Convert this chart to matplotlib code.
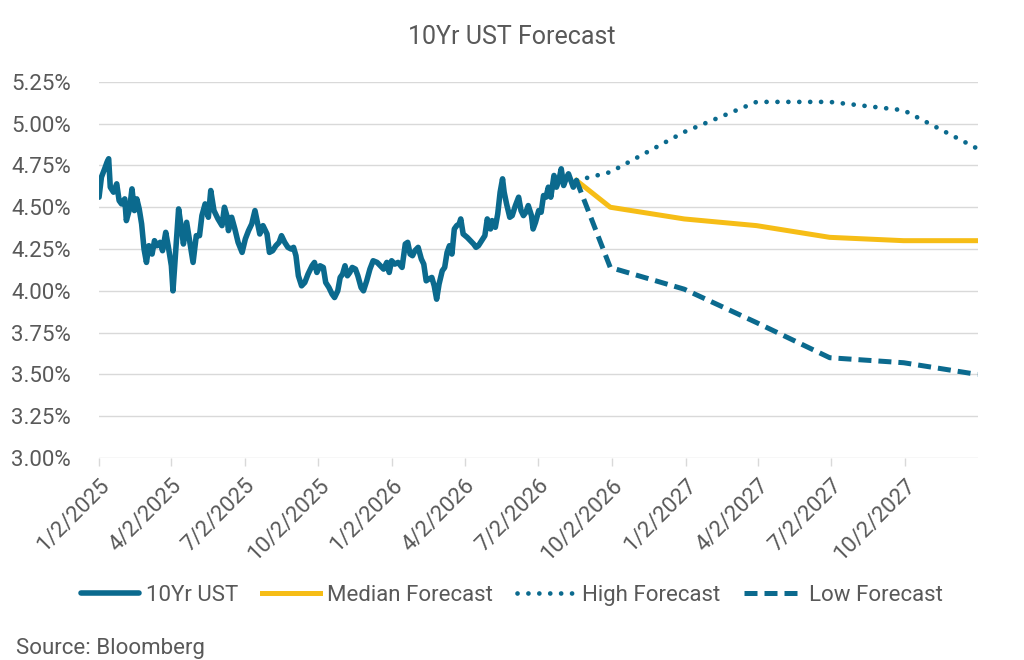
#!/usr/bin/env python3
"""10Yr UST history plus median/high/low forecast paths."""

import matplotlib

matplotlib.use("Agg")

import matplotlib.pyplot as plt
import matplotlib.dates as mdates
import matplotlib.ticker as mticker
import pandas as pd

# ---------------------------------------------------------------------------
# Data
# ---------------------------------------------------------------------------

START = "2025-01-02"

# days since START, 10Yr yield (%)
HIST_DAYS = [
    0, 3, 7, 10, 12, 14, 18, 22, 25, 28, 32, 34, 38, 41, 44, 47, 50, 53, 56, 59,
    62, 66, 69, 72, 76, 79, 83, 86, 90, 92, 95, 99, 102, 105, 109, 113, 117, 121,
    125, 128, 132, 136, 139, 143, 148, 153, 156, 159, 161, 165, 169, 173, 178,
    182, 186, 190, 194, 197, 200, 204, 209, 212, 216, 220, 224, 227, 231, 235,
    239, 242, 245, 248, 252, 256, 260, 265, 268, 271, 275, 279, 282, 286, 290,
    293, 297, 300, 303, 306, 309, 312, 315, 319, 322, 326, 329, 333, 337, 341,
    346, 350, 354, 358, 361, 364, 368, 372, 377, 381, 384, 387, 390, 393, 397,
    401, 404, 407, 410, 414, 417, 420, 423, 427, 430, 433, 436, 439, 442, 445,
    448, 450, 453, 458, 462, 466, 469, 472, 476, 480, 483, 487, 489, 493, 496,
    499, 502, 504, 507, 511, 514, 518, 522, 525, 528, 531, 534, 538, 540, 543,
    547, 550, 553, 556, 559, 562, 566, 569, 572, 575, 578, 581, 584, 587, 590,
    594,
]
HIST_VALS = [
    4.56, 4.68, 4.73, 4.77, 4.79, 4.62, 4.59, 4.64, 4.54, 4.52, 4.55, 4.42, 4.49,
    4.61, 4.48, 4.55, 4.49, 4.40, 4.25, 4.17, 4.27, 4.22, 4.30, 4.27, 4.29, 4.24,
    4.35, 4.27, 4.15, 4.00, 4.21, 4.49, 4.39, 4.28, 4.41, 4.29, 4.17, 4.33, 4.33,
    4.45, 4.52, 4.44, 4.60, 4.48, 4.43, 4.39, 4.50, 4.45, 4.36, 4.44, 4.37, 4.29,
    4.23, 4.31, 4.36, 4.40, 4.48, 4.41, 4.34, 4.39, 4.34, 4.23, 4.24, 4.27, 4.29,
    4.33, 4.29, 4.26, 4.25, 4.26, 4.21, 4.09, 4.03, 4.05, 4.10, 4.15, 4.17, 4.11,
    4.15, 4.14, 4.05, 4.02, 3.98, 3.96, 4.00, 4.08, 4.10, 4.15, 4.09, 4.11, 4.14,
    4.13, 4.09, 4.02, 4.00, 4.06, 4.13, 4.18, 4.17, 4.15, 4.13, 4.17, 4.11, 4.18,
    4.16, 4.17, 4.14, 4.28, 4.29, 4.22, 4.21, 4.24, 4.26, 4.19, 4.16, 4.06, 4.07,
    4.08, 4.03, 3.95, 4.04, 4.12, 4.14, 4.23, 4.27, 4.22, 4.37, 4.39, 4.40, 4.43,
    4.34, 4.32, 4.30, 4.28, 4.26, 4.27, 4.30, 4.33, 4.43, 4.37, 4.42, 4.38, 4.46,
    4.59, 4.67, 4.59, 4.52, 4.44, 4.45, 4.51, 4.56, 4.48, 4.45, 4.47, 4.51, 4.45,
    4.37, 4.41, 4.48, 4.47, 4.57, 4.56, 4.62, 4.56, 4.69, 4.62, 4.66, 4.73, 4.63,
    4.67, 4.70, 4.66, 4.62, 4.66,
]

FC_DATES = [
    "2026-08-19", "2026-09-30", "2026-12-31", "2027-03-31",
    "2027-06-30", "2027-09-30", "2027-12-31",
]
MEDIAN_FC = [4.66, 4.50, 4.43, 4.39, 4.32, 4.30, 4.30]
HIGH_FC = [4.66, 4.71, 4.95, 5.13, 5.13, 5.08, 4.85]
LOW_FC = [4.66, 4.14, 4.01, 3.81, 3.60, 3.57, 3.50]

TICK_DATES = [
    "2025-01-02", "2025-04-02", "2025-07-02", "2025-10-02",
    "2026-01-02", "2026-04-02", "2026-07-02", "2026-10-02",
    "2027-01-02", "2027-04-02", "2027-07-02", "2027-10-02",
]
Y_TICKS = [3.00, 3.25, 3.50, 3.75, 4.00, 4.25, 4.50, 4.75, 5.00, 5.25]

# ---------------------------------------------------------------------------
# Styling
# ---------------------------------------------------------------------------

BLUE = "#0B6A8E"
GOLD = "#F6BD16"
TEXT = "#595959"
GRID = "#D9D9D9"

plt.rcParams["font.family"] = ["Roboto", "DejaVu Sans"]


def main() -> None:
    start = pd.Timestamp(START)
    hist_x = start + pd.to_timedelta(HIST_DAYS, unit="D")
    fc_x = pd.to_datetime(FC_DATES)

    fig = plt.figure(figsize=(10.24, 6.6), dpi=100)
    ax = fig.add_axes([0.0967, 0.306, 0.858, 0.570])

    ax.plot(hist_x, HIST_VALS, color=BLUE, lw=4.0, solid_joinstyle="round",
            solid_capstyle="round", label="10Yr UST", zorder=3)
    ax.plot(fc_x, MEDIAN_FC, color=GOLD, lw=3.6, label="Median Forecast", zorder=2)
    ax.plot(fc_x, HIGH_FC, color=BLUE, lw=3.4, linestyle=(0, (0.01, 2.3)),
            dash_capstyle="round", label="High Forecast", zorder=2)
    ax.plot(fc_x, LOW_FC, color=BLUE, lw=3.6, linestyle=(0, (2.6, 1.4)),
            label="Low Forecast", zorder=2)

    ax.set_xlim(start, pd.Timestamp("2027-12-31"))
    ax.set_ylim(3.0, 5.25)

    ax.set_yticks(Y_TICKS)
    ax.yaxis.set_major_formatter(mticker.FuncFormatter(lambda v, _: f"{v:.2f}%"))
    ax.set_xticks(pd.to_datetime(TICK_DATES))
    ax.xaxis.set_major_formatter(
        mticker.FuncFormatter(lambda v, _: "{d.month}/{d.day}/{d.year}".format(d=mdates.num2date(v)))
    )
    plt.setp(ax.get_xticklabels(), rotation=45, ha="right", rotation_mode="anchor")

    ax.grid(axis="y", color=GRID, lw=1.0)
    ax.set_axisbelow(True)
    for side in ax.spines.values():
        side.set_visible(False)

    ax.tick_params(axis="y", length=0, pad=20, labelsize=16, labelcolor=TEXT)
    ax.tick_params(axis="x", length=6, width=1.0, color=GRID, pad=6,
                   labelsize=16, labelcolor=TEXT)

    fig.text(0.5, 0.944, "10Yr UST Forecast", ha="center", va="center",
             fontsize=18, color=TEXT)
    fig.text(0.016, 0.018, "Source: Bloomberg", ha="left", va="center",
             fontsize=16, color=TEXT)

    fig.legend(loc="center", bbox_to_anchor=(0.5, 0.098), ncol=4, frameon=False,
               fontsize=16, labelcolor=TEXT, handlelength=2.6, handletextpad=0.3,
               columnspacing=1.1)

    fig.savefig("out.png", dpi=100)
    plt.close(fig)


if __name__ == "__main__":
    main()
